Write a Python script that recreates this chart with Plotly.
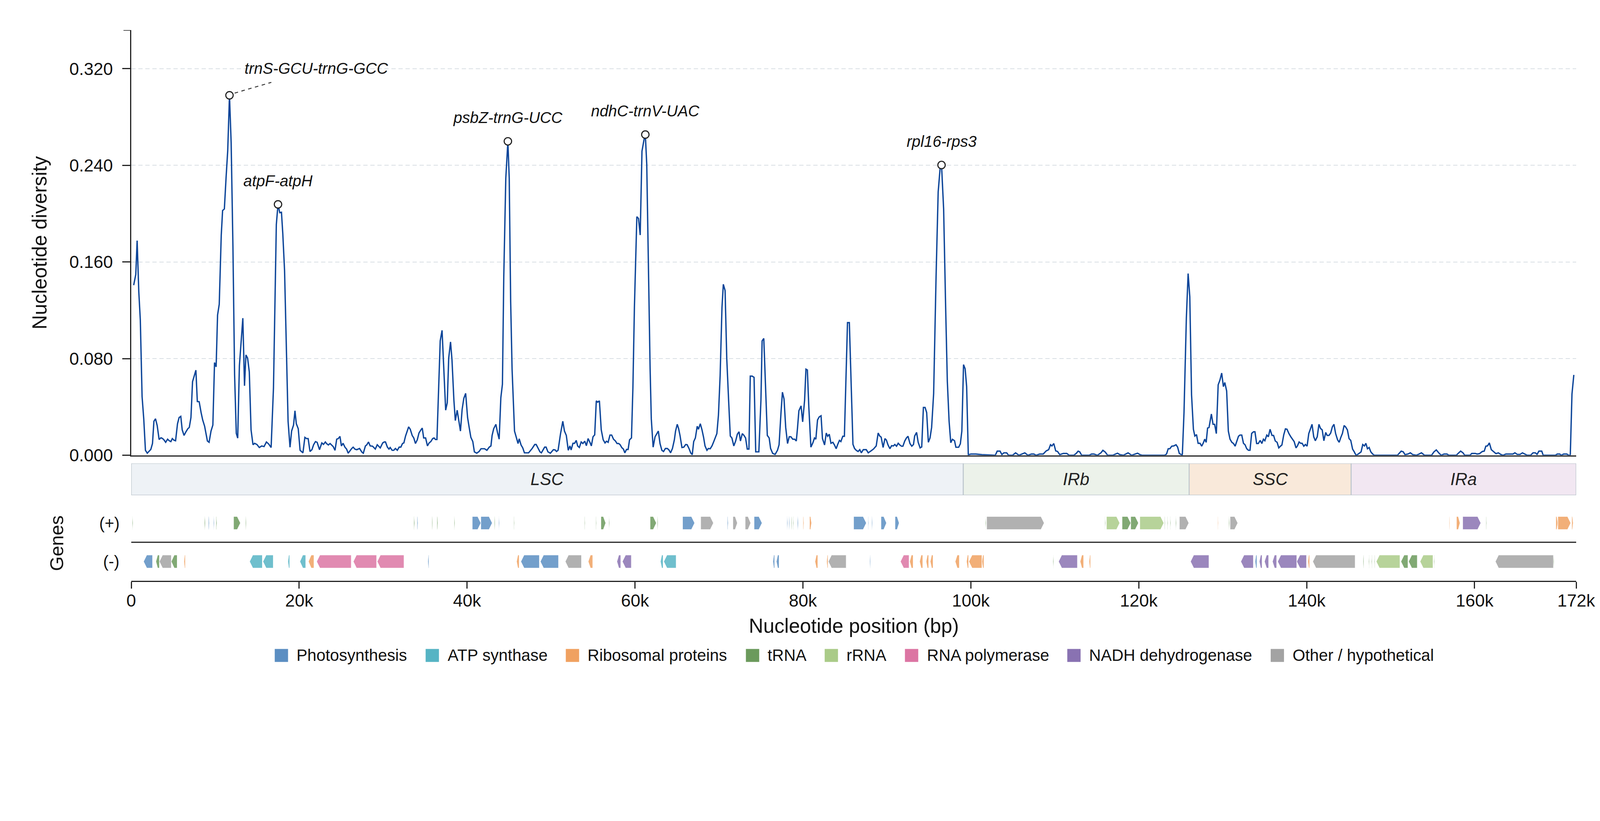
import plotly.graph_objects as go

# ---------------------------------------------------------------
# sliding-window nucleotide diversity (window mid-point in kb, Pi)
# ---------------------------------------------------------------
pos_kb = [
    0.29, 0.54, 0.70, 0.90, 1.08, 1.29, 1.49, 1.69, 1.91, 2.10, 2.33, 2.53, 2.70, 2.89, 3.09, 3.32,
    3.54, 3.74, 3.92, 4.10, 4.33, 4.52, 4.72, 4.89, 5.08, 5.28, 5.51, 5.70, 5.90, 6.07, 6.29, 6.52,
    6.74, 6.91, 7.11, 7.30, 7.53, 7.70, 7.87, 8.09, 8.32, 8.51, 8.74, 9.07, 9.27, 9.50, 9.72, 9.92,
    10.11, 10.28, 10.48, 10.72, 10.88, 11.09, 11.29, 11.49, 11.70, 11.90, 12.11, 12.31, 12.51, 12.68,
    12.88, 13.12, 13.29, 13.49, 13.66, 13.86, 14.06, 14.27, 14.50, 14.69, 14.97, 15.25, 15.54, 15.82,
    16.10, 16.38, 16.66, 16.94, 17.28, 17.48, 17.69, 17.89, 18.05, 18.26, 18.46, 18.68, 18.91, 19.10,
    19.33, 19.50, 19.66, 19.89, 20.11, 20.45, 20.68, 20.87, 21.07, 21.29, 21.52, 21.72, 21.94, 22.14,
    22.42, 22.70, 22.90, 23.12, 23.26, 23.48, 23.68, 24.05, 24.27, 24.47, 24.66, 24.86, 25.03, 25.23,
    25.45, 25.65, 25.84, 26.07, 26.25, 26.43, 26.65, 26.86, 27.19, 27.47, 27.64, 27.89, 28.04, 28.26,
    28.46, 28.74, 29.07, 29.30, 29.66, 29.95, 30.14, 30.28, 30.51, 30.70, 30.84, 31.07, 31.27, 31.46,
    31.69, 31.91, 32.11, 32.31, 32.47, 32.67, 32.87, 33.04, 33.23, 33.46, 33.65, 33.85, 34.07, 34.27,
    34.50, 34.66, 34.83, 35.06, 35.28, 35.48, 35.68, 35.90, 36.07, 36.24, 36.41, 36.60, 36.80, 37.02,
    37.25, 37.45, 37.64, 37.81, 38.03, 38.20, 38.43, 38.60, 38.82, 38.99, 39.21, 39.41, 39.61, 39.83,
    40.06, 40.25, 40.45, 40.68, 40.87, 41.15, 41.43, 41.66, 42.08, 42.36, 42.64, 42.84, 42.98, 43.17,
    43.43, 43.62, 43.82, 44.02, 44.21, 44.37, 44.61, 44.86, 45.02, 45.19, 45.36, 45.65, 45.87, 46.07,
    46.21, 46.43, 46.63, 46.83, 47.08, 47.33, 47.75, 48.06, 48.23, 48.45, 48.68, 48.85, 49.24, 49.41,
    49.63, 49.92, 50.28, 50.48, 50.65, 50.84, 51.12, 51.40, 51.60, 51.82, 52.05, 52.25, 52.39, 52.61,
    52.81, 53.00, 53.17, 53.37, 53.59, 53.79, 54.02, 54.21, 54.41, 54.63, 54.80, 55.00, 55.20, 55.39,
    55.56, 55.76, 55.98, 56.21, 56.43, 56.60, 56.80, 57.02, 57.22, 57.44, 57.67, 57.86, 58.06, 58.23,
    58.43, 58.62, 58.79, 58.99, 59.18, 59.35, 59.58, 59.75, 59.93, 60.22, 60.42, 60.62, 60.83, 61.07,
    61.23, 61.40, 61.60, 61.80, 61.94, 62.16, 62.39, 62.61, 62.78, 62.98, 63.20, 63.40, 63.62, 63.85,
    64.04, 64.24, 64.46, 64.69, 64.83, 65.03, 65.19, 65.36, 65.59, 65.81, 66.04, 66.21, 66.43, 66.63,
    66.82, 66.99, 67.19, 67.41, 67.56, 67.78, 67.98, 68.17, 68.34, 68.57, 68.74, 68.96, 69.18, 69.38,
    69.58, 69.75, 69.94, 70.14, 70.36, 70.52, 70.73, 70.93, 71.15, 71.35, 71.54, 71.77, 71.99, 72.19,
    72.39, 72.56, 72.78, 72.98, 73.17, 73.37, 73.57, 73.73, 73.96, 74.18, 74.38, 74.75, 75.00, 75.14,
    75.34, 75.56, 75.76, 75.98, 76.15, 76.40, 76.69, 76.97, 77.16, 77.39, 77.56, 77.75, 77.95, 78.17,
    78.37, 78.57, 78.79, 79.02, 79.21, 79.35, 79.52, 79.78, 79.97, 80.20, 80.36, 80.53, 80.70, 80.95,
    81.18, 81.38, 81.54, 81.74, 81.94, 82.16, 82.33, 82.58, 82.78, 82.95, 83.14, 83.34, 83.57, 83.76,
    83.96, 84.13, 84.35, 84.52, 84.75, 84.94, 85.14, 85.31, 85.53, 85.76, 85.96, 86.15, 86.35, 86.57,
    86.77, 86.96, 87.19, 87.55, 87.78, 88.11, 88.40, 88.73, 88.96, 89.15, 89.32, 89.55, 89.77, 89.94,
    90.14, 90.36, 90.56, 90.78, 90.95, 91.15, 91.35, 91.54, 91.74, 91.91, 92.13, 92.33, 92.52, 92.75,
    92.97, 93.17, 93.31, 93.54, 93.73, 93.96, 94.15, 94.35, 94.55, 94.74, 94.94, 95.14, 95.33, 95.57,
    95.86, 96.11, 96.35, 96.51, 96.76, 97.00, 97.20, 97.41, 97.61, 97.81, 98.06, 98.22, 98.55, 98.75,
    98.93, 99.13, 99.32, 99.50, 99.70, 100.00, 100.60, 101.32, 102.58, 102.92, 103.14, 103.48, 103.70,
    103.93, 104.27, 104.49, 104.97, 105.33, 105.73, 106.43, 106.80, 107.22, 107.50, 107.78, 108.20,
    108.62, 108.98, 109.27, 109.49, 109.66, 109.88, 110.11, 110.33, 110.59, 111.01, 111.43, 111.71,
    112.27, 112.55, 112.78, 112.97, 113.20, 114.10, 114.38, 114.66, 115.08, 115.50, 115.73, 116.01,
    116.29, 116.91, 117.19, 117.47, 117.75, 118.17, 118.45, 118.73, 119.15, 119.58, 119.86, 120.14,
    120.42, 123.09, 123.31, 123.51, 123.71, 123.93, 124.16, 124.44, 124.63, 124.83, 125.19, 125.39,
    125.67, 125.88, 126.08, 126.29, 126.51, 126.68, 126.88, 127.07, 127.30, 127.50, 127.69, 127.86,
    128.03, 128.20, 128.37, 128.65, 128.85, 129.04, 129.24, 129.46, 129.66, 129.88, 130.08, 130.25,
    130.47, 130.67, 130.87, 131.09, 131.29, 131.48, 131.71, 131.88, 132.05, 132.27, 132.47, 132.66,
    132.86, 133.06, 133.25, 133.45, 133.67, 133.84, 134.04, 134.24, 134.46, 134.66, 134.85, 135.02,
    135.25, 135.44, 135.64, 135.87, 136.06, 136.26, 136.48, 136.68, 136.88, 137.05, 137.27, 137.47,
    137.66, 137.89, 138.11, 138.31, 138.51, 138.73, 138.90, 139.10, 139.29, 139.46, 139.66, 139.85,
    140.05, 140.25, 140.45, 140.64, 140.84, 141.03, 141.26, 141.46, 141.65, 141.85, 142.05, 142.27,
    142.44, 142.66, 142.86, 143.06, 143.25, 143.45, 143.68, 143.87, 144.07, 144.26, 144.46, 144.63,
    144.85, 145.05, 145.25, 145.47, 145.67, 145.87, 146.09, 146.32, 146.48, 146.68, 146.88, 147.05,
    147.24, 147.44, 147.64, 147.86, 148.06, 150.81, 151.03, 151.26, 151.51, 151.71, 152.07, 152.35,
    152.64, 153.06, 153.39, 153.67, 154.04, 154.88, 155.16, 155.44, 155.73, 156.01, 156.37, 156.71,
    156.93, 157.83, 158.11, 158.34, 158.62, 158.82, 159.46, 159.66, 160.08, 160.30, 160.58, 160.92,
    161.15, 161.34, 161.54, 161.76, 161.99, 162.27, 162.55, 162.83, 163.11, 163.39, 163.73, 164.15,
    164.57, 164.80, 165.08, 165.42, 165.70, 165.98, 166.26, 166.68, 166.96, 167.24, 167.44, 167.66,
    168.00, 168.17, 169.63, 169.85, 170.14, 170.33, 170.61, 170.98, 171.20, 171.40, 171.60, 171.82,
]
pi_vals = [
    0.1408, 0.1497, 0.1777, 0.1352, 0.1120, 0.0486, 0.0300, 0.0041, 0.0017, 0.0030, 0.0048, 0.0097, 0.0281, 0.0302, 0.0246, 0.0130,
    0.0145, 0.0138, 0.0125, 0.0107, 0.0133, 0.0120, 0.0113, 0.0138, 0.0125, 0.0120, 0.0261, 0.0312, 0.0322, 0.0210, 0.0164, 0.0195,
    0.0220, 0.0230, 0.0312, 0.0609, 0.0660, 0.0704, 0.0445, 0.0443, 0.0353, 0.0292, 0.0240, 0.0118, 0.0107, 0.0200, 0.0250, 0.0767,
    0.0732, 0.1160, 0.1250, 0.1823, 0.2026, 0.2039, 0.2293, 0.2522, 0.2980, 0.2586, 0.1734, 0.0664, 0.0181, 0.0142,
    0.0740, 0.0970, 0.1135, 0.0575, 0.0830, 0.0804, 0.0690, 0.0210, 0.0087, 0.0099, 0.0089, 0.0064, 0.0077, 0.0072,
    0.0110, 0.0092, 0.0064, 0.0558, 0.1910, 0.2077, 0.2008, 0.2012, 0.1835, 0.1530, 0.0977, 0.0280, 0.0066, 0.0200,
    0.0250, 0.0368, 0.0261, 0.0220, 0.0041, 0.0020, 0.0148, 0.0138, 0.0138, 0.0031, 0.0046, 0.0087, 0.0113, 0.0107,
    0.0046, 0.0102, 0.0090, 0.0110, 0.0097, 0.0085, 0.0097, 0.0072, 0.0041, 0.0133, 0.0138, 0.0156, 0.0077, 0.0099,
    0.0067, 0.0051, 0.0017, 0.0041, 0.0055, 0.0067, 0.0050, 0.0046, 0.0056, 0.0026, 0.0017, 0.0077, 0.0085, 0.0110,
    0.0077, 0.0075, 0.0051, 0.0087, 0.0061, 0.0102, 0.0110, 0.0110, 0.0067, 0.0051, 0.0064, 0.0041, 0.0041, 0.0056,
    0.0041, 0.0067, 0.0067, 0.0097, 0.0102, 0.0159, 0.0200, 0.0235, 0.0215, 0.0164, 0.0143, 0.0097, 0.0128, 0.0184,
    0.0210, 0.0225, 0.0143, 0.0143, 0.0077, 0.0102, 0.0113, 0.0138, 0.0143, 0.0130, 0.0130, 0.0558, 0.0947, 0.1034,
    0.0660, 0.0373, 0.0435, 0.0803, 0.0938, 0.0793, 0.0455, 0.0287, 0.0373, 0.0302, 0.0200, 0.0379, 0.0471, 0.0512,
    0.0312, 0.0230, 0.0148, 0.0113, 0.0028, 0.0017, 0.0031, 0.0054, 0.0054, 0.0041, 0.0067, 0.0077, 0.0164, 0.0220,
    0.0256, 0.0189, 0.0133, 0.0476, 0.0588, 0.1479, 0.2293, 0.2599, 0.2293, 0.1275, 0.0711, 0.0200, 0.0148, 0.0097,
    0.0136, 0.0085, 0.0061, 0.0020, 0.0020, 0.0020, 0.0056, 0.0089, 0.0089, 0.0061, 0.0028, 0.0020, 0.0067, 0.0067,
    0.0028, 0.0017, 0.0046, 0.0044, 0.0031, 0.0041, 0.0174, 0.0281, 0.0200, 0.0164, 0.0041, 0.0077, 0.0044, 0.0099,
    0.0099, 0.0123, 0.0077, 0.0064, 0.0110, 0.0097, 0.0116, 0.0079, 0.0138, 0.0107, 0.0077, 0.0153, 0.0169, 0.0450,
    0.0440, 0.0450, 0.0210, 0.0128, 0.0102, 0.0116, 0.0107, 0.0167, 0.0167, 0.0133, 0.0118, 0.0097, 0.0097, 0.0087,
    0.0063, 0.0051, 0.0020, 0.0048, 0.0048, 0.0128, 0.0143, 0.0558, 0.1224, 0.1975, 0.1960, 0.1823, 0.2517, 0.2611,
    0.2655, 0.2408, 0.1479, 0.0715, 0.0302, 0.0067, 0.0153, 0.0179, 0.0200, 0.0097, 0.0041, 0.0031, 0.0056, 0.0056,
    0.0044, 0.0020, 0.0056, 0.0128, 0.0200, 0.0256, 0.0222, 0.0164, 0.0064, 0.0067, 0.0089, 0.0087, 0.0056, 0.0020,
    0.0005, 0.0113, 0.0143, 0.0240, 0.0215, 0.0261, 0.0210, 0.0148, 0.0077, 0.0041, 0.0056, 0.0054, 0.0079, 0.0113,
    0.0153, 0.0179, 0.0333, 0.0660, 0.1223, 0.1415, 0.1364, 0.0800, 0.0455, 0.0159, 0.0143, 0.0077, 0.0118, 0.0174,
    0.0194, 0.0118, 0.0179, 0.0164, 0.0143, 0.0051, 0.0051, 0.0655, 0.0655, 0.0645, 0.0028, 0.0028, 0.0455, 0.0947,
    0.0967, 0.0558, 0.0164, 0.0143, 0.0056, 0.0015, 0.0007, 0.0041, 0.0087, 0.0353, 0.0522, 0.0466, 0.0230, 0.0097,
    0.0153, 0.0153, 0.0133, 0.0133, 0.0118, 0.0220, 0.0368, 0.0409, 0.0276, 0.0455, 0.0713, 0.0706, 0.0404, 0.0067,
    0.0102, 0.0143, 0.0133, 0.0292, 0.0317, 0.0327, 0.0138, 0.0085, 0.0184, 0.0157, 0.0174, 0.0099, 0.0107, 0.0085,
    0.0054, 0.0087, 0.0123, 0.0113, 0.0157, 0.0157, 0.0660, 0.1098, 0.1098, 0.0558, 0.0090, 0.0056, 0.0041, 0.0031,
    0.0046, 0.0020, 0.0046, 0.0046, 0.0020, 0.0036, 0.0051, 0.0077, 0.0184, 0.0159, 0.0150, 0.0064, 0.0138, 0.0126,
    0.0085, 0.0054, 0.0079, 0.0077, 0.0089, 0.0075, 0.0099, 0.0085, 0.0075, 0.0075, 0.0118, 0.0143, 0.0157, 0.0097,
    0.0075, 0.0089, 0.0159, 0.0189, 0.0107, 0.0061, 0.0069, 0.0396, 0.0396, 0.0353, 0.0107, 0.0143, 0.0230, 0.0511,
    0.1480, 0.2179, 0.2383, 0.2403, 0.2039, 0.1224, 0.0613, 0.0283, 0.0104, 0.0132, 0.0120, 0.0066, 0.0066, 0.0095,
    0.0200, 0.0750, 0.0716, 0.0570, 0.0003, 0.0010, 0.0010, 0.0005, 0.0000, 0.0000, 0.0034, 0.0034, 0.0005,
    0.0020, 0.0020, 0.0000, 0.0000, 0.0020, 0.0000, 0.0020, 0.0000, 0.0010, 0.0010, 0.0000, 0.0010,
    0.0010, 0.0036, 0.0046, 0.0087, 0.0077, 0.0097, 0.0036, 0.0031, 0.0005, 0.0015, 0.0015, 0.0000,
    0.0000, 0.0015, 0.0034, 0.0028, 0.0000, 0.0000, 0.0010, 0.0010, 0.0000, 0.0020, 0.0041, 0.0026,
    0.0000, 0.0000, 0.0010, 0.0017, 0.0005, 0.0000, 0.0010, 0.0020, 0.0000, 0.0010, 0.0017, 0.0005,
    0.0000, 0.0000, 0.0010, 0.0054, 0.0054, 0.0075, 0.0077, 0.0087, 0.0067, 0.0015, 0.0000, 0.0353,
    0.1135, 0.1504, 0.1313, 0.0499, 0.0215, 0.0159, 0.0171, 0.0099, 0.0099, 0.0075, 0.0102, 0.0133,
    0.0107, 0.0225, 0.0230, 0.0341, 0.0256, 0.0256, 0.0179, 0.0583, 0.0620, 0.0680, 0.0568, 0.0602,
    0.0532, 0.0200, 0.0133, 0.0107, 0.0097, 0.0075, 0.0118, 0.0157, 0.0167, 0.0167, 0.0099, 0.0087,
    0.0054, 0.0041, 0.0041, 0.0181, 0.0194, 0.0194, 0.0097, 0.0097, 0.0123, 0.0097, 0.0133, 0.0120,
    0.0167, 0.0153, 0.0215, 0.0164, 0.0164, 0.0118, 0.0107, 0.0061, 0.0075, 0.0085, 0.0169, 0.0218,
    0.0215, 0.0179, 0.0153, 0.0133, 0.0113, 0.0061, 0.0077, 0.0110, 0.0099, 0.0099, 0.0075, 0.0089,
    0.0075, 0.0179, 0.0220, 0.0256, 0.0153, 0.0120, 0.0153, 0.0256, 0.0222, 0.0210, 0.0120, 0.0189,
    0.0164, 0.0164, 0.0184, 0.0235, 0.0256, 0.0179, 0.0128, 0.0107, 0.0148, 0.0181, 0.0246, 0.0235,
    0.0210, 0.0138, 0.0123, 0.0051, 0.0028, 0.0000, 0.0007, 0.0020, 0.0028, 0.0089, 0.0077, 0.0099,
    0.0054, 0.0064, 0.0028, 0.0010, 0.0000, 0.0000, 0.0015, 0.0034, 0.0028, 0.0005, 0.0010, 0.0020,
    0.0005, 0.0000, 0.0010, 0.0020, 0.0000, 0.0000, 0.0028, 0.0044, 0.0020, 0.0000, 0.0010, 0.0010,
    0.0000, 0.0000, 0.0020, 0.0034, 0.0020, 0.0000, 0.0000, 0.0015, 0.0015, 0.0010, 0.0013, 0.0031,
    0.0034, 0.0075, 0.0077, 0.0102, 0.0046, 0.0031, 0.0013, 0.0020, 0.0007, 0.0000, 0.0010, 0.0010,
    0.0010, 0.0020, 0.0007, 0.0007, 0.0020, 0.0010, 0.0000, 0.0000, 0.0020, 0.0020, 0.0007, 0.0034,
    0.0034, 0.0000, 0.0000, 0.0010, 0.0010, 0.0000, 0.0010, 0.0010, 0.0000, 0.0000, 0.0507, 0.0665,
]

# labelled hotspots
peak_kb = [11.70, 17.48, 44.86, 61.23, 96.51]
peak_pi = [0.2980, 0.2077, 0.2599, 0.2655, 0.2403]
peak_names = ['trnS-GCU-trnG-GCC', 'atpF-atpH', 'psbZ-trnG-UCC', 'ndhC-trnV-UAC', 'rpl16-rps3']

# quadripartite structure
region_names = ['LSC', 'IRb', 'SSC', 'IRa']
region_start_kb = [0.0, 99.1, 126.0, 145.3]
region_end_kb = [99.1, 126.0, 145.3, 172.1]
region_colors = ['#eef2f6', '#ecf2ea', '#f9e9da', '#f2e7f2']

# gene categories
cat_keys = ['PS', 'ATP', 'RIB', 'TRNA', 'RRNA', 'RPO', 'NDH', 'OTH']
cat_names = ['Photosynthesis', 'ATP synthase', 'Ribosomal proteins', 'tRNA', 'rRNA',
             'RNA polymerase', 'NADH dehydrogenase', 'Other / hypothetical']
cat_colors = ['#5b8ec2', '#56b4c4', '#f0a160', '#6b9a5c', '#aacb88', '#dc75a3', '#8972b2', '#a3a3a3']

# genes on the (+) strand: start kb, end kb, category
plus_start = [0.12, 8.72, 9.20, 9.80, 10.10, 12.19, 13.62, 33.65, 34.05, 35.82, 36.42, 38.46, 40.62, 41.64,
              43.26, 43.76, 45.56, 53.98, 55.33, 55.94, 56.88, 61.80, 62.66, 65.67, 67.83, 71.00, 71.66,
              73.13, 74.19, 78.10, 78.34, 78.63, 78.83, 79.35, 80.02, 80.79, 86.04, 87.76, 88.20, 89.30,
              90.97, 101.73, 101.89, 115.96, 116.16, 118.02, 119.05, 120.13, 123.07, 123.40, 123.73,
              124.39, 124.84, 129.40, 130.72, 130.88, 156.98, 157.85, 158.59, 161.36, 169.68, 169.92, 171.58]
plus_end = [0.20, 8.82, 9.30, 9.88, 10.20, 13.00, 13.70, 33.75, 34.15, 35.90, 36.52, 38.54, 41.64, 42.99,
            43.34, 43.84, 45.64, 54.06, 55.41, 56.51, 56.96, 62.54, 62.74, 67.10, 69.34, 71.10, 72.19,
            73.78, 75.13, 78.18, 78.42, 78.71, 78.91, 79.45, 80.12, 81.03, 87.55, 87.84, 88.28, 89.95,
            91.46, 101.81, 108.73, 116.04, 117.73, 119.05, 119.96, 122.98, 123.15, 123.48, 123.81,
            124.47, 125.96, 129.48, 130.80, 131.79, 157.06, 158.26, 160.74, 161.44, 169.92, 171.45, 171.74]
plus_cat = ['TRNA', 'TRNA', 'PS', 'PS', 'TRNA', 'TRNA', 'TRNA', 'TRNA', 'PS', 'TRNA', 'TRNA', 'TRNA', 'PS', 'PS',
            'TRNA', 'PS', 'TRNA', 'TRNA', 'TRNA', 'TRNA', 'TRNA', 'TRNA', 'TRNA', 'PS', 'OTH', 'PS', 'OTH',
            'OTH', 'PS', 'PS', 'PS', 'TRNA', 'TRNA', 'PS', 'RIB', 'RIB', 'PS', 'PS', 'PS', 'PS',
            'PS', 'TRNA', 'OTH', 'TRNA', 'RRNA', 'TRNA', 'TRNA', 'RRNA', 'TRNA', 'TRNA', 'TRNA',
            'TRNA', 'OTH', 'RIB', 'TRNA', 'OTH', 'RIB', 'RIB', 'NDH', 'TRNA', 'RIB', 'RIB', 'RIB']

# genes on the (-) strand
minus_start = [1.47, 2.94, 3.35, 4.77, 6.28, 14.10, 15.69, 18.66, 20.09, 21.11, 22.09, 26.45, 29.30, 35.33,
               45.90, 46.41, 48.73, 51.70, 54.43, 57.85, 58.50, 63.03, 63.43, 76.43, 76.84, 81.44, 82.83,
               83.03, 87.96, 91.62, 92.72, 93.90, 94.68, 95.17, 98.14, 99.49, 99.77, 101.32, 109.79,
               110.45, 113.02, 114.09, 126.17, 132.16, 133.86, 134.36, 134.98, 135.93, 136.55, 138.82,
               140.15, 140.73, 146.72, 147.39, 147.72, 148.05, 148.29, 151.23, 152.14, 153.51, 155.16,
               162.48, 169.39]
minus_end = [2.53, 3.35, 4.77, 5.47, 6.44, 15.61, 16.91, 18.87, 20.78, 21.76, 26.20, 29.22, 32.48, 35.45,
             46.20, 48.61, 50.89, 53.62, 54.96, 58.30, 59.56, 63.35, 64.90, 76.63, 77.16, 81.77, 82.99,
             85.15, 88.04, 92.64, 93.13, 94.27, 94.97, 95.50, 98.63, 99.73, 101.32, 101.56, 109.87,
             112.69, 113.43, 114.26, 128.36, 133.65, 134.07, 134.69, 135.47, 136.42, 138.82, 139.98,
             140.35, 145.77, 146.80, 147.47, 147.80, 148.13, 151.11, 152.06, 153.17, 155.04, 155.24,
             169.39, 169.47]
minus_cat = ['PS', 'TRNA', 'OTH', 'TRNA', 'RIB', 'ATP', 'ATP', 'ATP', 'ATP', 'RIB', 'RPO', 'RPO', 'RPO', 'PS',
             'RIB', 'PS', 'PS', 'OTH', 'RIB', 'NDH', 'NDH', 'ATP', 'ATP', 'PS', 'PS', 'RIB', 'RIB',
             'OTH', 'PS', 'RPO', 'RIB', 'RIB', 'RIB', 'RIB', 'RIB', 'RIB', 'RIB', 'RIB', 'TRNA',
             'NDH', 'RIB', 'RIB', 'NDH', 'NDH', 'PS', 'NDH', 'NDH', 'NDH', 'NDH', 'NDH',
             'RIB', 'OTH', 'TRNA', 'TRNA', 'TRNA', 'TRNA', 'RRNA', 'TRNA', 'TRNA', 'RRNA', 'TRNA',
             'OTH', 'TRNA']

GENOME_END = 172100
x_tick_bp = [0, 20000, 40000, 60000, 80000, 100000, 120000, 140000, 160000, GENOME_END]
x_tick_text = ['0', '20k', '40k', '60k', '80k', '100k', '120k', '140k', '160k', '172k']
y_ticks = [0.0, 0.08, 0.16, 0.24, 0.32]

FONT = 'Liberation Sans, Arial, sans-serif'
INK = '#222222'

# The page is photographed at ~1.055 image px per CSS px and the body keeps its 8px margin,
# so geometry below is measured in image px and converted.
K = 1.0546
BODY = 8
W, H = 4088, 1972


def s(v):
    # image px size -> css px size
    return v / K


def css(p):
    # image px position -> css px position inside the figure
    return p / K - BODY


# plot area in image px: left 354, right 4261, top 81, bottom 1568
ML = css(354)
MR = W - css(4261)
MT = css(81)
MB = H - css(1568)


def py(p):
    return (1568 - p) / (1568 - 81)


def px_x(p):
    return (p - 354) / (4261 - 354)


def hex_rgba(h, a):
    h = h.lstrip('#')
    return 'rgba(%d,%d,%d,%.2f)' % (int(h[0:2], 16), int(h[2:4], 16), int(h[4:6], 16), a)


def arrow(s_kb, e_kb, strand):
    ''' pentagon outline for one gene '''
    a, b = s_kb * 1000, e_kb * 1000
    head = min(380, 0.5 * (b - a))
    yc, h = (1 if strand > 0 else -1), 0.337
    if strand > 0:
        xs = [a, b - head, b, b - head, a, a]
    else:
        xs = [b, a + head, a, a + head, b, b]
    ys = [yc - h, yc - h, yc, yc + h, yc + h, yc - h]
    return xs, ys


fig = go.Figure()

# diversity curve
fig.add_trace(go.Scatter(
    x=[p * 1000 for p in pos_kb], y=pi_vals, mode='lines',
    line=dict(color='#0c4599', width=s(3.6)),
    xaxis='x', yaxis='y', showlegend=False, hoverinfo='skip',
))

# hotspot markers
fig.add_trace(go.Scatter(
    x=[p * 1000 for p in peak_kb], y=peak_pi, mode='markers',
    marker=dict(symbol='circle', size=s(20), color='white', line=dict(color=INK, width=s(3))),
    xaxis='x', yaxis='y', showlegend=False, hoverinfo='skip',
))

# gene arrows, one filled trace per category
for key, col in zip(cat_keys, cat_colors):
    xs, ys = [], []
    for a, b, c in zip(plus_start, plus_end, plus_cat):
        if c == key:
            gx, gy = arrow(a, b, +1)
            xs += gx + [None]
            ys += gy + [None]
    for a, b, c in zip(minus_start, minus_end, minus_cat):
        if c == key:
            gx, gy = arrow(a, b, -1)
            xs += gx + [None]
            ys += gy + [None]
    fig.add_trace(go.Scatter(
        x=xs, y=ys, mode='lines', fill='toself',
        fillcolor=hex_rgba(col, 0.85), line=dict(color='white', width=s(1)),
        xaxis='x3', yaxis='y3', showlegend=False, hoverinfo='skip',
    ))

shapes = []
annotations = []

# region track
for name, a, b, col in zip(region_names, region_start_kb, region_end_kb, region_colors):
    shapes.append(dict(type='rect', xref='x', yref='y2', x0=a * 1000, x1=b * 1000, y0=0, y1=1,
                       fillcolor=col, line=dict(color='#bac4cc', width=s(2.5)), layer='below'))
    annotations.append(dict(xref='x', yref='y2', x=(a + b) / 2 * 1000, y=0.5, text='<i>%s</i>' % name,
                            xanchor='center', yanchor='middle', showarrow=False,
                            font=dict(size=s(46), color=INK, family=FONT)))

# strand separator and the top tick of the diversity axis
shapes.append(dict(type='line', xref='paper', yref='y3', x0=0, x1=1, y0=0, y1=0,
                   line=dict(color='#333333', width=s(3.5))))
shapes.append(dict(type='line', xref='paper', yref='y', x0=px_x(354 - 21), x1=0, y0=0.352, y1=0.352,
                   line=dict(color=INK, width=s(3))))

# peak labels
for i, (x, y, name) in enumerate(zip(peak_kb, peak_pi, peak_names)):
    if i == 0:
        shapes.append(dict(type='line', xref='x', yref='y', xsizemode='pixel', ysizemode='pixel',
                           xanchor=x * 1000, yanchor=y, x0=s(14), x1=s(113), y0=s(6), y1=s(35),
                           line=dict(color='#333333', width=s(2.5), dash='dash')))
        annotations.append(dict(xref='x', yref='y', x=x * 1000, y=y, xshift=s(234), yshift=s(73),
                                xanchor='center', yanchor='middle', text='<i>%s</i>' % name,
                                showarrow=False, font=dict(size=s(42), color='#111111', family=FONT)))
    else:
        annotations.append(dict(xref='x', yref='y', x=x * 1000, y=y, yshift=s(64),
                                xanchor='center', yanchor='middle', text='<i>%s</i>' % name,
                                showarrow=False, font=dict(size=s(42), color='#111111', family=FONT)))

# axis titles and strand labels
annotations.append(dict(xref='paper', yref='paper', x=px_x(106), y=py(655), text='Nucleotide diversity',
                        textangle=-90, xanchor='center', yanchor='middle', showarrow=False,
                        font=dict(size=s(54), color='#111111', family=FONT)))
annotations.append(dict(xref='paper', yref='paper', x=px_x(153), y=py(1467), text='Genes',
                        textangle=-90, xanchor='center', yanchor='middle', showarrow=False,
                        font=dict(size=s(51), color='#111111', family=FONT)))
annotations.append(dict(xref='paper', yref='paper', x=0.5, y=py(1690), text='Nucleotide position (bp)',
                        xanchor='center', yanchor='middle', showarrow=False,
                        font=dict(size=s(54), color='#111111', family=FONT)))
for lab, yv in [('(+)', 1), ('(-)', -1)]:
    annotations.append(dict(xref='paper', yref='y3', x=px_x(324), y=yv, xanchor='right', yanchor='middle',
                            text=lab, showarrow=False, font=dict(size=s(44), color='#111111', family=FONT)))

# category legend
legend_px = [742, 1150, 1529, 2016, 2229, 2446, 2885, 3435]
for lx, name, col in zip(legend_px, cat_names, cat_colors):
    shapes.append(dict(type='rect', xref='paper', yref='paper', x0=px_x(lx), x1=px_x(lx + 36),
                       y0=py(1787), y1=py(1752), fillcolor=col, line=dict(width=0)))
    annotations.append(dict(xref='paper', yref='paper', x=px_x(lx + 57), y=py(1769), xanchor='left',
                            yanchor='middle', text=name, showarrow=False,
                            font=dict(size=s(44), color='#111111', family=FONT)))

fig.update_layout(
    width=W, height=H,
    margin=dict(l=ML, r=MR, t=MT, b=MB, pad=0),
    paper_bgcolor='white', plot_bgcolor='white',
    font=dict(family=FONT, size=s(47), color='#111111'),
    showlegend=False,
    xaxis=dict(domain=[0, 1], anchor='y', range=[0, GENOME_END], showline=True, linecolor=INK,
               linewidth=s(3.5), showticklabels=False, ticks='', showgrid=False, zeroline=False),
    yaxis=dict(domain=[py(1229), 1], anchor='x', range=[0, 0.352], showline=True, linecolor=INK,
               linewidth=s(3.5), tickvals=y_ticks, ticktext=['%.3f' % v for v in y_ticks],
               ticks='outside', ticklen=s(21), tickwidth=s(3), tickcolor=INK, ticklabelstandoff=15,
               tickfont=dict(size=s(47), color='#111111'),
               showgrid=True, gridcolor='#d9dfe4', gridwidth=s(2.5), griddash='11px,7px', zeroline=False),
    xaxis2=dict(domain=[0, 1], anchor='y2', range=[0, GENOME_END], matches='x', visible=False),
    yaxis2=dict(domain=[py(1337), py(1251)], anchor='x2', range=[0, 1], visible=False),
    xaxis3=dict(domain=[0, 1], anchor='y3', range=[0, GENOME_END], matches='x', showline=True,
                linecolor=INK, linewidth=s(3.5), tickvals=x_tick_bp, ticktext=x_tick_text,
                ticks='outside', ticklen=s(18), tickwidth=s(3), tickcolor=INK, ticklabelstandoff=-8,
                ticklabeloverflow='allow',
                tickfont=dict(size=s(47), color='#111111'), showgrid=False, zeroline=False),
    yaxis3=dict(domain=[0, py(1360)], anchor='x3', range=[-2, 2], visible=False),
    shapes=shapes,
    annotations=annotations,
)

fig.write_html('out.html')
